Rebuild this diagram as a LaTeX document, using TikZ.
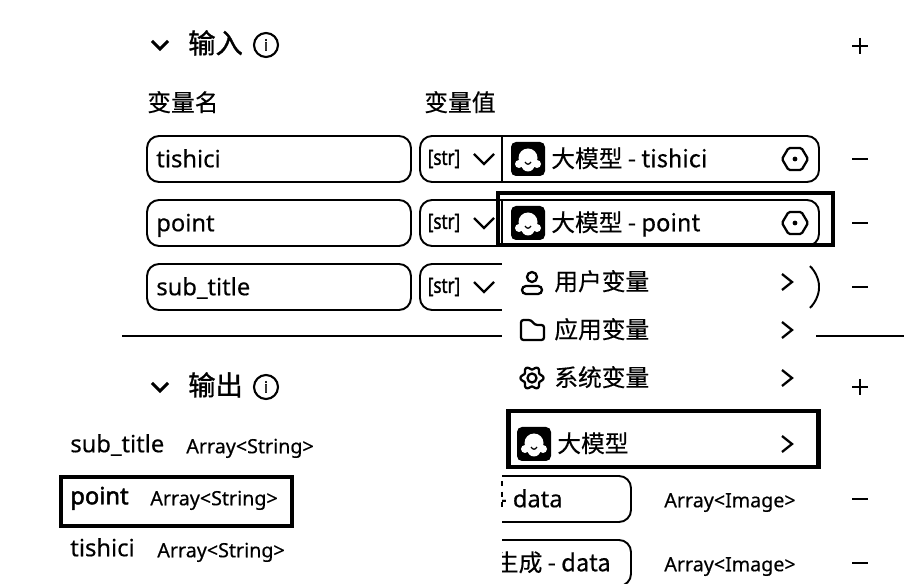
\documentclass[tikz,border=0pt]{standalone}
\usepackage{fontspec}
\setmainfont[FakeBold=0.4]{Noto Sans}
\newfontfamily\cjk[FakeBold=0.4]{Noto Sans CJK SC}
\newfontfamily\cjkhead[FakeBold=1.2]{Noto Sans CJK SC}
\newfontfamily\heavy[FakeBold=2]{Noto Sans}
\newfontfamily\narrow[FakeStretch=0.8,FakeBold=1.5]{Noto Sans}
\usetikzlibrary{positioning}
\tikzset{
  field/.style={draw,line width=1.1pt,rounded corners=0.24cm,minimum width=5.28cm,minimum height=0.92cm,inner sep=0pt},
  mark box/.style={draw,line width=2.4pt,inner sep=0pt},
  txt/.style={anchor=west,inner sep=0pt,text height=12.4pt,text depth=3pt,font=\fontsize{13.5pt}{15pt}\selectfont},
  small txt/.style={txt,font=\fontsize{11.2pt}{13pt}\selectfont},
  head/.style={txt,font=\fontsize{15.5pt}{17pt}\selectfont\cjkhead},
  zh/.style={txt,font=\fontsize{13.5pt}{15pt}\selectfont\cjk},
  type/.style={anchor=center,inner sep=0pt,font=\fontsize{12pt}{13pt}\selectfont\narrow},
  sign/.pic={\draw[line width=1.1pt] (-8,0) -- (8,0);},
  plus/.pic={\draw[line width=1.1pt] (-8,0) -- (8,0) (0,-8) -- (0,8);},
  chev down/.pic={\draw[line width=1.3pt] (-10,-5) -- (0,5) -- (10,-5);},
  chev head/.pic={\draw[line width=1.8pt] (-8,-4) -- (0,4) -- (8,-4);},
  chev right/.pic={\draw[line width=1.3pt] (-5,-8) -- (5,0) -- (-5,8);},
  info/.pic={\draw[line width=1.2pt] (0,0) circle (12);
    \node[inner sep=0pt,font=\fontsize{9pt}{9pt}\selectfont\heavy] (-infotxt) at (0,0) {i};},
  hexa/.pic={\draw[line width=1.3pt,rounded corners=0.03cm] (-13,0) -- (-6.5,-11) -- (6.5,-11) -- (13,0) -- (6.5,11) -- (-6.5,11) -- cycle;
    \fill (0,0) circle (2.4);},
  bot/.pic={\fill[rounded corners=0.1cm] (-17,-17) rectangle (17,17);
    \fill[white] (0,-1) circle (9.5) (-9,5) circle (4) (9,5) circle (4) (0,6) circle (6.5);
    \draw[line width=0.7pt] (-3,3) .. controls (-1,6) and (1,6) .. (3,3);},
  person/.pic={\draw[line width=1.3pt] (0,-6) circle (5);
    \draw[line width=1.3pt,rounded corners=0.08cm] (-10,11) -- (10,11) -- (10,3) -- (-10,3) -- cycle;},
  folder/.pic={\draw[line width=1.3pt,rounded corners=0.05cm] (-11,-10) -- (-1,-10) -- (3,-5) -- (12,-5) -- (12,10) -- (-11,10) -- cycle;},
  gear/.pic={\draw[line width=1.3pt] (0,0) circle (4.5);
    \draw[line width=1.3pt] plot[domain=0:355,samples=72,smooth cycle] (\x:{10+1.5*cos(6*\x)});},
}
\begin{document}
\begin{tikzpicture}[x=0.02cm,y=-0.02cm]
  \useasboundingbox (0,0) rectangle (914,584);
  % input section
  \pic at (160,45) {chev head};
  \node[head] (inhead) at (188,45) {输入};
  \pic at (266,45) {info};
  \pic at (860,46) {plus};
  \node[zh] (namehead) at (147,103) {变量名};
  \node[zh] (valuehead) at (424,103) {变量值};
  \foreach \y/\name in {159/tishici,223/point,287/sub\_title}{
    \node[field] (f\y) at (279,\y) {};
    \node[txt] (n\y) at (156,\y) {\name};
    \draw[line width=1.1pt,rounded corners=0.24cm] (502,\y-23) -- (420,\y-23) -- (420,\y+23) -- (502,\y+23);
    \node[type] (s\y) at (444,\y) {[str]};
    \pic at (484,\y) {chev down};
    \pic at (860,\y) {sign};
  }
  \draw[line width=1.1pt] (122,336) -- (904,336);
  % menu mask
  \fill[white] (502,246) rectangle (816,400);
  \draw[line width=1.1pt,rounded corners=0.24cm] (812,268) -- (819,274) -- (819,300) -- (812,306);
  % selected variables
  \foreach \y in {159,223}{
    \fill[white] (502,\y-23) rectangle (819,\y+23);
    \draw[line width=1.1pt,rounded corners=0.24cm] (502,\y-23) -- (819,\y-23) -- (819,\y+23) -- (502,\y+23);
    \draw[line width=1.1pt] (502,\y-23) -- (502,\y+23);
    \pic at (528,\y) {bot};
    \pic at (795,\y) {hexa};
  }
  \node[zh] (t1) at (551,159) {大模型 - tishici};
  \node[zh] (t2) at (551,223) {大模型 - point};
  \node[mark box,minimum width=6.7cm,minimum height=1.04cm] (m1) at (665.5,219) {};
  % menu
  \pic at (532,283) {person};
  \node[zh] (u1) at (554,282) {用户变量};
  \pic at (787,282) {chev right};
  \pic at (532,330) {folder};
  \node[zh] (u2) at (554,330) {应用变量};
  \pic at (787,330) {chev right};
  \pic at (532,378) {gear};
  \node[zh] (u3) at (554,378) {系统变量};
  \pic at (787,378) {chev right};
  \pic at (534,444) {bot};
  \node[zh] (u4) at (557,444) {大模型};
  \pic at (787,444) {chev right};
  \node[mark box,minimum width=6.2cm,minimum height=1.12cm] (m2) at (663.5,439) {};
  % output section
  \pic at (160,387) {chev head};
  \node[head] (outhead) at (188,387) {输出};
  \pic at (266,387) {info};
  \pic at (860,387) {plus};
  \node[txt] (o1) at (70,444) {sub\_title};
  \node[small txt] (a1) at (186,445) {Array<String>};
  \node[txt,font=\fontsize{13.5pt}{15pt}\selectfont\heavy] (o2) at (70,496) {point};
  \node[small txt] (a2) at (150,497) {Array<String>};
  \node[mark box,minimum width=4.62cm,minimum height=0.98cm] (m3) at (176.5,501.5) {};
  \node[txt] (o3) at (70,548) {tishici};
  \node[small txt] (a3) at (157,549) {Array<String>};
  % cut-off fields
  \draw[line width=1.1pt,rounded corners=0.24cm] (502,476) -- (631,476) -- (631,522) -- (502,522);
  \draw[line width=1.1pt,rounded corners=0.24cm] (502,540) -- (631,540) -- (631,586) -- (502,586);
  \draw[line width=0.8pt,dashed] (502,481) -- (502,510);
  \begin{scope}
    \clip (502,470) rectangle (640,584);
    \node[txt,anchor=east] (d1) at (563,499) {- data};
    \node[zh,anchor=east] (d2) at (611,563) {生成 - data};
  \end{scope}
  \node[small txt] (a4) at (664,499) {Array<Image>};
  \node[small txt] (a5) at (664,563) {Array<Image>};
  \pic at (860,499) {sign};
  \pic at (860,563) {sign};
\end{tikzpicture}
\end{document}
